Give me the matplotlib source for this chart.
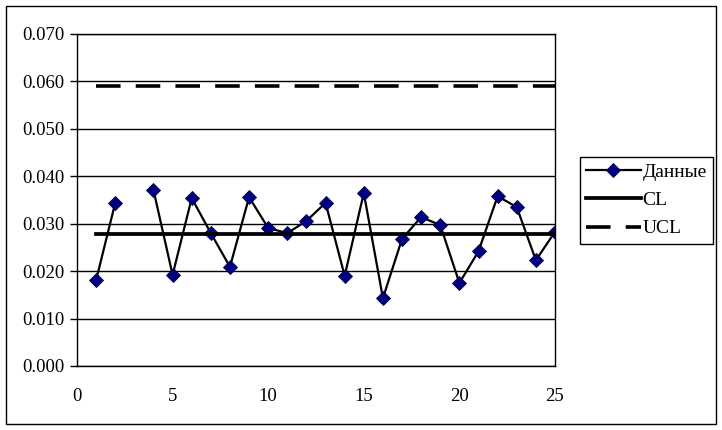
import numpy as np
import matplotlib
matplotlib.use("Agg")
import matplotlib.pyplot as plt
from matplotlib.patches import Rectangle

x_vals = list(range(1, 26))
data = [0.0181, 0.0344, np.nan, 0.0371, 0.0192, 0.0354, 0.0280, 0.0209, 0.0356, 0.0291,
        0.0280, 0.0306, 0.0344, 0.0190, 0.0365, 0.0143, 0.0268, 0.0314, 0.0297, 0.0175,
        0.0242, 0.0358, 0.0335, 0.0223, 0.0283]
cl_value = 0.0278
ucl_value = 0.0590
y_ticks = [0.000, 0.010, 0.020, 0.030, 0.040, 0.050, 0.060, 0.070]
x_ticks = [0, 5, 10, 15, 20, 25]
labels = ["Данные", "CL", "UCL"]

plt.rcParams['font.family'] = ['Liberation Serif', 'DejaVu Serif']

fig = plt.figure(figsize=(7.22, 4.30), dpi=100)
ax = fig.add_axes([77/722, 64/430, 478/722, 332/430])

ax.set_xlim(0, 25)
ax.set_ylim(0, 0.070)
ax.set_yticks(y_ticks)
ax.set_yticklabels([f"{v:.3f}" for v in y_ticks])
ax.set_xticks(x_ticks)
ax.grid(axis='y', color='black', linewidth=1)
ax.set_axisbelow(True)
for s in ax.spines.values():
    s.set_color('black')
    s.set_linewidth(1)
ax.tick_params(axis='y', direction='out', length=5, width=1, labelsize=13.5, pad=4)
ax.tick_params(axis='x', length=0, labelsize=13.5, pad=16)

l_data, = ax.plot(x_vals, data, color='black', linewidth=1.6, marker='D', markersize=7,
                  markerfacecolor='#000080', markeredgecolor='#000040', markeredgewidth=0.6)
l_cl, = ax.plot([x_vals[0], x_vals[-1]], [cl_value, cl_value], color='black', linewidth=2.7)
l_ucl, = ax.plot([x_vals[0], x_vals[-1]], [ucl_value, ucl_value], color='black', linewidth=2.6,
                 dashes=(6.8, 4.2))

leg = fig.legend([l_data, l_cl, l_ucl], labels, loc='upper left',
                 bbox_to_anchor=(580/722, 1 - 157/430), fontsize=14, frameon=True,
                 fancybox=False, edgecolor='black', framealpha=1, borderpad=0.32,
                 handlelength=2.8, handletextpad=0.1, labelspacing=0.55, borderaxespad=0)
leg.get_frame().set_linewidth(1)

fig.patches.append(Rectangle((6/722, 6/430), 710/722, 418/430, transform=fig.transFigure,
                             fill=False, edgecolor='black', linewidth=1))

fig.savefig("out.png", dpi=100)
